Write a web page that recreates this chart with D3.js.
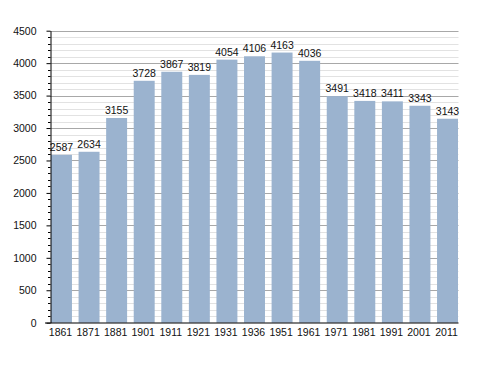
<!DOCTYPE html>
<html><head><meta charset="utf-8">
<script src="https://cdn.jsdelivr.net/npm/d3@7"></script>
<style>body{margin:0;background:#fff}svg{display:block}text{font-family:"Liberation Sans",Arial,sans-serif;font-size:10.5px;fill:#111}</style>
</head><body>
<script>
const years = ["1861","1871","1881","1901","1911","1921","1931","1936","1951","1961","1971","1981","1991","2001","2011"];
const population = [2587,2634,3155,3728,3867,3819,4054,4106,4163,4036,3491,3418,3411,3343,3143];
const yTicks = [0,500,1000,1500,2000,2500,3000,3500,4000,4500];

const W = 488, H = 373;
const FONT = "Liberation Sans, Arial, sans-serif";
const svg = d3.select("body").append("svg").attr("width", W).attr("height", H);
const mLeft = 50, mRight = 458.5, mTop = 30.7, mBottom = 322.7;

const x = d3.scaleBand().domain(years).range([51, 458]).paddingInner(0.24).paddingOuter(0);
const y = d3.scaleLinear().domain([0, 4500]).range([mBottom, mTop]);

// minor gridlines
const minor = d3.range(100, 4500, 100).filter(v => v % 500 !== 0);
svg.append("g").selectAll("line").data(minor).join("line")
  .attr("x1", mLeft).attr("x2", mRight)
  .attr("y1", d => Math.round(y(d)) + 0.5).attr("y2", d => Math.round(y(d)) + 0.5)
  .attr("stroke", "#e2e2e2").attr("stroke-width", 1);
// major gridlines
svg.append("g").selectAll("line").data(yTicks.filter(v => v > 0)).join("line")
  .attr("x1", mLeft).attr("x2", mRight)
  .attr("y1", d => Math.round(y(d)) + 0.5).attr("y2", d => Math.round(y(d)) + 0.5)
  .attr("stroke", "#a8a8a8").attr("stroke-width", 1);

// bars
svg.append("g").selectAll("rect").data(population).join("rect")
  .attr("x", (d, i) => x(years[i]))
  .attr("width", x.bandwidth())
  .attr("y", d => y(d))
  .attr("height", d => mBottom - y(d))
  .attr("fill", "#9bb3cf");

// value labels
svg.append("g").selectAll("text").data(population).join("text")
  .attr("x", (d, i) => x(years[i]) + x.bandwidth() / 2)
  .attr("y", d => y(d) - 4)
  .attr("text-anchor", "middle")
  .text(d => d);

// y axis
const yAxis = d3.axisLeft(y).tickValues(yTicks).tickFormat(d3.format("d")).tickSize(4).tickPadding(10).tickSizeOuter(0);
const gy = svg.append("g").attr("transform", `translate(${mLeft + 0.5},0)`).call(yAxis);
gy.select(".domain").attr("stroke", "#000");
gy.selectAll(".tick line").attr("stroke", "#000");
gy.selectAll(".tick text").attr("font-size", 10.5).attr("font-family", FONT).attr("fill", "#111");
// minor ticks
svg.append("g").selectAll("line").data(minor).join("line")
  .attr("x1", mLeft - 2).attr("x2", mLeft + 0.5)
  .attr("y1", d => Math.round(y(d)) + 0.5).attr("y2", d => Math.round(y(d)) + 0.5)
  .attr("stroke", "#000");

// x axis
svg.append("line").attr("x1", 45).attr("x2", mRight).attr("y1", mBottom + 0.3).attr("y2", mBottom + 0.3).attr("stroke", "#000").attr("stroke-width", 1.2);
const xAxis = d3.axisBottom(x).tickSize(0).tickPadding(6);
const gx = svg.append("g").attr("transform", `translate(-1,${mBottom})`).call(xAxis);
gx.select(".domain").remove();
gx.selectAll(".tick text").attr("font-size", 10.5).attr("font-family", FONT).attr("fill", "#111");
</script>
</body></html>
